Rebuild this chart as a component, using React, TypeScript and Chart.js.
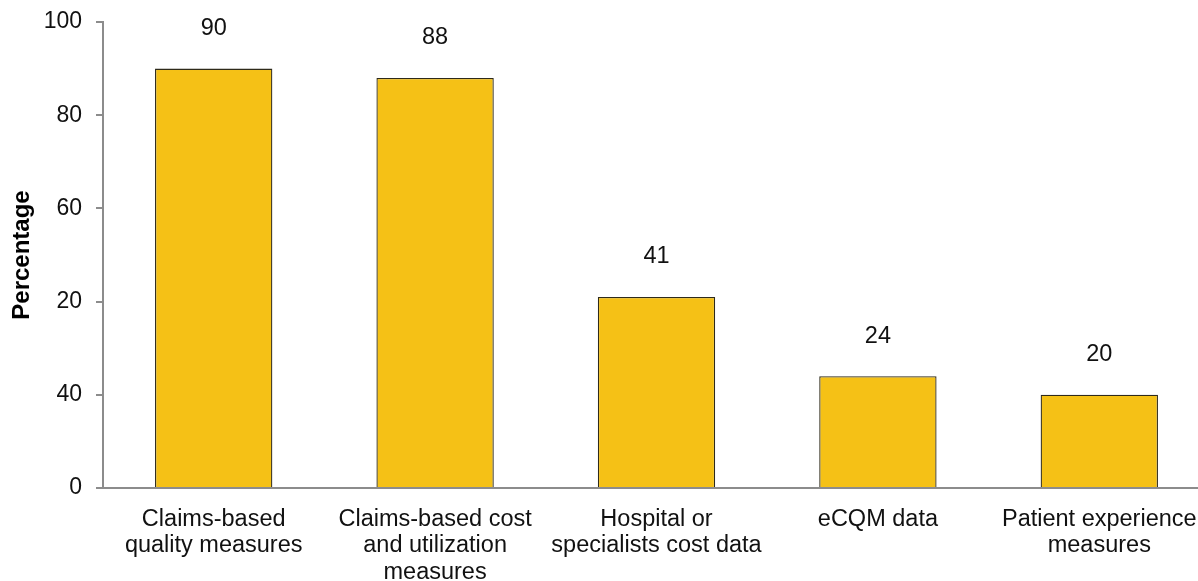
import React, { useEffect, useRef } from "react";
import { Chart, registerables } from "chart.js";

Chart.register(...registerables);

const categories: string[][] = [
  ["Claims-based", "quality measures"],
  ["Claims-based cost", "and utilization", "measures"],
  ["Hospital or", "specialists cost data"],
  ["eCQM data"],
  ["Patient experience", "measures"],
];
const values: number[] = [90, 88, 41, 24, 20];
const valueLabels: string[] = ["90", "88", "41", "24", "20"];
const yTickLabels: string[] = ["0", "40", "20", "60", "80", "100"];

const FONT = "'Liberation Sans', Arial, sans-serif";

const labelPlugin = {
  id: "valueLabels",
  afterDatasetsDraw(chart: any) {
    const ctx = chart.ctx;
    const meta = chart.getDatasetMeta(0);
    ctx.save();
    ctx.font = `23.5px ${FONT}`;
    ctx.fillStyle = "#111";
    ctx.textAlign = "center";
    ctx.textBaseline = "middle";
    meta.data.forEach((bar: any, i: number) => {
      ctx.fillText(valueLabels[i], bar.x, bar.y - 40);
    });
    ctx.restore();
  },
};

export default function App() {
  const ref = useRef<HTMLCanvasElement | null>(null);
  useEffect(() => {
    document.body.style.margin = "0";
    if (!ref.current) return;
    const chart = new Chart(ref.current, {
      type: "bar",
      data: {
        labels: categories,
        datasets: [
          {
            data: values,
            backgroundColor: "#F5C116",
            borderColor: "#2e2a1a",
            borderWidth: 1.3,
            borderSkipped: "bottom",
            categoryPercentage: 1,
            barPercentage: 0.53,
          },
        ],
      },
      options: {
        animation: false,
        responsive: false,
        maintainAspectRatio: false,
        layout: { padding: { top: 22, left: 0, right: 0, bottom: 0 } },
        plugins: {
          legend: { display: false },
          tooltip: { enabled: false },
        },
        scales: {
          x: {
            grid: { display: false },
            border: { display: true, color: "#8c8c8c", width: 2 },
            ticks: {
              color: "#111",
              font: { family: FONT, size: 23.5, lineHeight: "26.5px" },
              padding: 10,
              maxRotation: 0,
              autoSkip: false,
            },
            afterFit: (s: any) => {
              s.height = 93;
            },
          },
          y: {
            min: 0,
            max: 100,
            grid: {
              drawOnChartArea: false,
              drawTicks: true,
              tickLength: 7,
              color: "#8c8c8c",
              lineWidth: 2,
            },
            border: { display: true, color: "#8c8c8c", width: 2 },
            ticks: {
              stepSize: 20,
              color: "#111",
              font: { family: FONT, size: 23 },
              padding: 14,
              callback: (_v: any, i: number) => yTickLabels[i],
            },
            title: {
              display: true,
              text: "Percentage",
              color: "#000",
              font: { family: FONT, size: 24, weight: "bold" },
              padding: { top: 8, bottom: 0 },
            },
            afterFit: (s: any) => {
              s.width = 103;
              s.paddingTop = 0;
              s.paddingBottom = 0;
            },
          },
        },
      },
      plugins: [labelPlugin],
    });
    return () => chart.destroy();
  }, []);
  return (
    <div style={{ position: "fixed", left: 0, top: 0, width: 1210, height: 581, background: "#fff" }}>
      <canvas ref={ref} width={1210} height={581} style={{ width: 1210, height: 581, display: "block" }} />
    </div>
  );
}
